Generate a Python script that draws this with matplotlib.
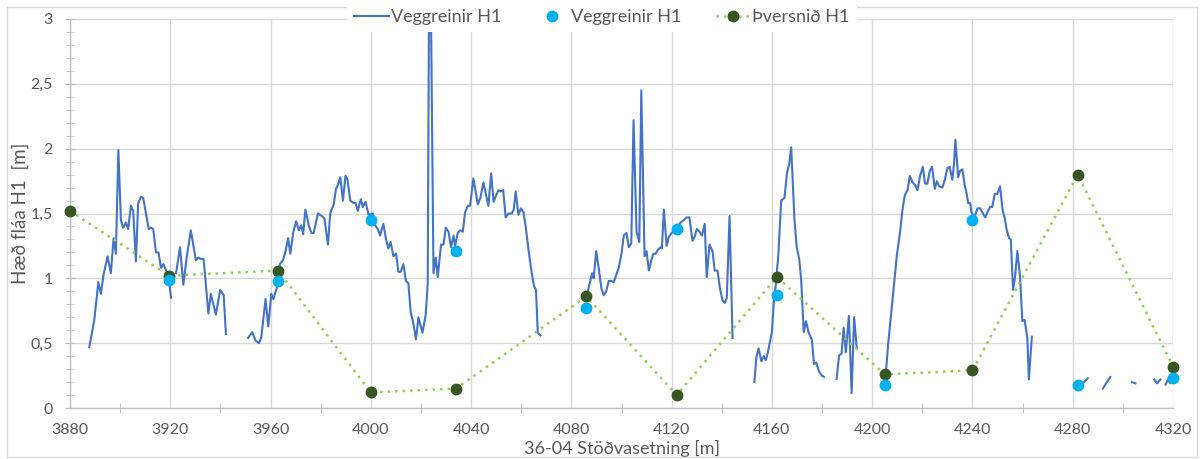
import numpy as np
import matplotlib
matplotlib.use("Agg")
import matplotlib.pyplot as plt
from matplotlib.ticker import MultipleLocator, FuncFormatter
from matplotlib.lines import Line2D
from matplotlib.patches import Rectangle

plt.rcParams['font.family'] = ['Lato', 'DejaVu Sans']

# ---- Veggreinir H1: continuous wall-line measurements, split into segments ----
seg1_x = [3887.7, 3889.7, 3891.3, 3892.3, 3893.4, 3895.0, 3896.3, 3897.4, 3898.3, 3899.3,
          3900.3, 3901.2, 3902.3, 3903.2, 3904.3, 3905.2, 3906.3, 3907.2, 3908.3, 3909.2,
          3910.3, 3911.4, 3912.3, 3913.2, 3914.3, 3915.3, 3916.3, 3917.3, 3918.3, 3919.2, 3920.3]
seg1_y = [0.47, 0.68, 0.97, 0.88, 1.03, 1.17, 1.04, 1.31, 1.19, 1.99,
          1.45, 1.39, 1.43, 1.38, 1.56, 1.52, 1.13, 1.58, 1.63, 1.62,
          1.50, 1.38, 1.39, 1.38, 1.20, 1.20, 1.08, 1.11, 1.06, 1.03, 0.85]

seg2_x = [3922.3, 3923.9, 3925.2, 3926.6, 3928.2, 3930.2, 3931.2, 3932.2, 3933.3, 3935.2,
          3936.2, 3938.2, 3939.9, 3941.3, 3942.2]
seg2_y = [1.04, 1.24, 0.95, 1.17, 1.37, 1.14, 1.16, 1.15, 1.15, 0.73,
          0.88, 0.72, 0.91, 0.87, 0.57]

seg3_x = [3951.0, 3952.7, 3954.0, 3955.4, 3956.3, 3958.0, 3959.1, 3960.3, 3961.1, 3962.4,
          3963.7, 3965.0, 3966.0, 3967.0, 3967.9, 3969.0, 3970.2, 3971.3, 3972.2, 3973.0,
          3973.9, 3975.2, 3976.3, 3977.2, 3978.9, 3980.5, 3981.5, 3982.9, 3983.8, 3985.2,
          3986.1, 3986.9, 3987.8, 3988.9, 3989.9, 3990.7, 3991.8, 3993.1, 3994.0, 3994.8,
          3996.0, 3996.8, 3997.9, 3999.1, 4000.8, 4001.7, 4002.8, 4003.7, 4005.0, 4006.1,
          4007.0, 4007.9, 4009.0, 4010.1, 4011.0, 4011.9, 4013.0, 4014.0, 4015.0, 4015.9,
          4017.0, 4018.0, 4019.0, 4020.6, 4021.9, 4022.7, 4023.2, 4024.0, 4025.0, 4025.9,
          4026.7, 4028.0, 4029.0, 4029.9, 4031.0, 4032.0, 4033.0, 4033.6, 4034.7, 4035.6,
          4036.7, 4037.6, 4038.7, 4039.6, 4040.9, 4041.9, 4042.7, 4043.7, 4044.9, 4045.9,
          4046.9, 4048.0, 4049.0, 4049.8, 4050.9, 4051.7, 4052.8, 4053.8, 4054.9, 4056.2,
          4057.0, 4057.8, 4058.9, 4059.9, 4060.9, 4061.9, 4063.1, 4064.2, 4065.1, 4065.9,
          4066.6, 4067.7]
seg3_y = [0.54, 0.585, 0.52, 0.50, 0.545, 0.84, 0.63, 0.88, 0.84, 0.92,
          1.11, 1.14, 1.21, 1.31, 1.19, 1.35, 1.44, 1.37, 1.41, 1.34,
          1.53, 1.41, 1.35, 1.35, 1.50, 1.48, 1.46, 1.26, 1.50, 1.57,
          1.69, 1.72, 1.78, 1.60, 1.79, 1.76, 1.60, 1.58, 1.58, 1.52,
          1.61, 1.55, 1.59, 1.49, 1.50, 1.41, 1.38, 1.33, 1.42, 1.30,
          1.23, 1.28, 1.17, 1.19, 1.05, 1.05, 1.11, 0.98, 0.96, 0.74,
          0.65, 0.53, 0.70, 0.58, 0.72, 0.96, 3.05, 3.05, 1.04, 1.16,
          1.01, 1.26, 1.26, 1.39, 1.36, 1.24, 1.33, 1.25, 1.35, 1.37,
          1.36, 1.51, 1.56, 1.56, 1.77, 1.66, 1.57, 1.62, 1.74, 1.65,
          1.56, 1.81, 1.59, 1.63, 1.68, 1.67, 1.68, 1.47, 1.50, 1.50,
          1.53, 1.67, 1.49, 1.54, 1.51, 1.38, 1.19, 1.04, 0.94, 0.91,
          0.58, 0.56]

seg4_x = [4086.6, 4087.3, 4088.3, 4088.9, 4089.9, 4090.9, 4092.0, 4092.9, 4093.9, 4094.9,
          4095.9, 4096.9, 4097.6, 4098.9, 4100.0, 4100.9, 4102.0, 4102.9, 4103.9, 4104.8,
          4106.0, 4107.1, 4107.9, 4109.2, 4110.0, 4110.9, 4111.9, 4112.7, 4113.6, 4114.5,
          4115.6, 4116.1, 4116.9, 4118.0, 4118.9, 4120.0, 4121.2, 4122.3, 4123.6, 4124.9,
          4126.0, 4127.1, 4128.3, 4129.2, 4130.0, 4131.1, 4132.1, 4133.2, 4134.0, 4135.1,
          4136.3, 4137.2, 4138.3, 4139.3, 4140.3, 4141.2, 4142.0, 4143.1, 4144.3]
seg4_y = [0.90, 0.96, 1.04, 1.00, 1.21, 1.08, 0.92, 0.87, 0.90, 0.98,
          0.98, 0.97, 1.01, 1.08, 1.19, 1.33, 1.35, 1.24, 1.27, 2.22,
          1.36, 1.28, 2.45, 1.17, 1.21, 1.06, 1.14, 1.19, 1.19, 1.22,
          1.24, 1.23, 1.53, 1.25, 1.32, 1.35, 1.37, 1.40, 1.43, 1.45,
          1.47, 1.47, 1.29, 1.32, 1.38, 1.36, 1.33, 1.42, 1.01, 1.26,
          1.21, 1.06, 1.06, 0.92, 0.83, 0.81, 0.85, 1.48, 0.54]

seg5_x = [4153.0, 4153.8, 4154.7, 4155.8, 4156.7, 4157.6, 4158.4, 4159.3, 4160.0, 4160.7,
          4161.6, 4162.6, 4163.7, 4165.0, 4166.0, 4166.9, 4167.7, 4169.0, 4169.9, 4170.9,
          4171.7, 4172.7, 4173.6, 4174.6, 4175.9, 4176.8, 4177.7, 4178.8, 4179.9, 4180.8]
seg5_y = [0.20, 0.39, 0.46, 0.36, 0.40, 0.37, 0.43, 0.52, 0.585, 0.80,
          0.96, 1.19, 1.60, 1.62, 1.81, 1.88, 2.01, 1.45, 1.24, 1.15,
          0.98, 0.585, 0.67, 0.585, 0.53, 0.34, 0.35, 0.28, 0.25, 0.24]

seg6_x = [4185.8, 4186.8, 4187.8, 4188.6, 4189.5, 4190.7, 4191.8, 4192.8, 4193.8]
seg6_y = [0.225, 0.405, 0.42, 0.62, 0.43, 0.71, 0.115, 0.70, 0.47]

seg7_x = [4205.5, 4206.4, 4208.1, 4209.8, 4211.2, 4212.1, 4213.0, 4214.1, 4215.0, 4216.1,
          4217.1, 4218.1, 4219.1, 4220.2, 4221.1, 4222.0, 4223.0, 4223.9, 4225.0, 4225.8,
          4226.7, 4228.0, 4229.1, 4230.0, 4230.9, 4232.0, 4232.7, 4233.2, 4234.3, 4235.1,
          4236.0, 4236.9, 4237.7, 4238.3, 4239.1, 4239.6, 4240.8, 4242.0, 4243.1, 4243.9,
          4245.1, 4246.0, 4247.0, 4247.9, 4248.9, 4249.9, 4251.0, 4252.0, 4252.9, 4253.7,
          4254.6, 4255.3, 4256.2, 4257.0, 4257.9, 4259.0, 4259.9, 4260.8, 4261.9, 4262.5,
          4263.7]
seg7_y = [0.28, 0.50, 0.83, 1.17, 1.37, 1.53, 1.64, 1.68, 1.79, 1.74,
          1.72, 1.68, 1.79, 1.86, 1.73, 1.73, 1.83, 1.86, 1.69, 1.75,
          1.71, 1.70, 1.77, 1.85, 1.86, 1.76, 1.90, 2.07, 1.78, 1.83,
          1.84, 1.72, 1.65, 1.58, 1.58, 1.51, 1.47, 1.54, 1.54, 1.51,
          1.47, 1.51, 1.55, 1.55, 1.65, 1.65, 1.71, 1.53, 1.46, 1.37,
          1.31, 1.30, 0.91, 1.01, 1.21, 1.01, 0.67, 0.68, 0.54, 0.22,
          0.55]

seg8_x = [4284.0, 4286.0]
seg8_y = [0.19, 0.23]
seg9_x = [4292.0, 4295.0]
seg9_y = [0.15, 0.24]
seg10_x = [4303.6, 4305.0]
seg10_y = [0.20, 0.19]
seg11_x = [4312.5, 4313.7, 4315.0]
seg11_y = [0.22, 0.19, 0.22]
seg12_x = [4317.0, 4318.0, 4319.0, 4320.0]
seg12_y = [0.18, 0.22, 0.19, 0.23]

segments = [(seg1_x, seg1_y), (seg2_x, seg2_y), (seg3_x, seg3_y), (seg4_x, seg4_y),
            (seg5_x, seg5_y), (seg6_x, seg6_y), (seg7_x, seg7_y), (seg8_x, seg8_y),
            (seg9_x, seg9_y), (seg10_x, seg10_y), (seg11_x, seg11_y), (seg12_x, seg12_y)]

# ---- Point series at cross-section stations ----
station = [3880, 3919.5, 3963, 4000, 4034, 4086, 4122, 4162, 4205, 4240, 4282, 4320]
veggreinir_pts = [np.nan, 0.99, 0.98, 1.45, 1.21, 0.77, 1.38, 0.87, 0.18, 1.45, 0.18, 0.23]
thversnid = [1.52, 1.02, 1.06, 0.12, 0.15, 0.86, 0.10, 1.01, 0.26, 0.29, 1.80, 0.32]

x_ticks = list(range(3880, 4321, 40))
y_ticks = [0, 0.5, 1, 1.5, 2, 2.5, 3]

# ---- Colours ----
BLUE = '#4472C4'
LIGHTBLUE = '#00B0F0'
DKGREEN = '#375623'
LTGREEN = '#92D050'
GRID = '#D9D9D9'
TXT = '#595959'

fig = plt.figure(figsize=(12, 4.59), dpi=100)
ax = fig.add_axes([70 / 1200, 51 / 459, 1103 / 1200, 389 / 459])

line_x, line_y = [], []
for sx, sy in segments:
    line_x += list(sx) + [np.nan]
    line_y += list(sy) + [np.nan]
ax.plot(line_x, line_y, color=BLUE, lw=1.5, zorder=3)

ax.plot(station, thversnid, color=LTGREEN, lw=1.8, ls=(0, (1, 2)),
        marker='o', ms=7.5, mfc=DKGREEN, mec=DKGREEN, zorder=4, clip_on=False)
ax.plot(station, veggreinir_pts, ls='none', marker='o', ms=7.5,
        mfc=LIGHTBLUE, mec=LIGHTBLUE, zorder=5, clip_on=False)

ax.set_xlim(3880, 4320)
ax.set_ylim(0, 3)
ax.set_xticks(x_ticks)
ax.xaxis.set_minor_locator(MultipleLocator(20))
ax.set_yticks(y_ticks)
ax.yaxis.set_minor_locator(MultipleLocator(0.1))
ax.yaxis.set_major_formatter(FuncFormatter(lambda v, p: f"{v:g}".replace('.', ',')))

ax.grid(True, which='major', color=GRID, lw=1.0, zorder=0)
ax.set_axisbelow(True)
for s in ['top', 'right']:
    ax.spines[s].set_visible(False)
for s in ['left', 'bottom']:
    ax.spines[s].set_color('#BFBFBF')
    ax.spines[s].set_linewidth(1.0)

ax.tick_params(axis='both', which='both', direction='inout', color='#BFBFBF',
               labelcolor=TXT, labelsize=11.5)
ax.tick_params(axis='y', which='major', length=7, pad=9)
ax.tick_params(axis='y', which='minor', length=6)
ax.tick_params(axis='x', which='major', length=0, pad=11)
ax.tick_params(axis='x', which='minor', length=7)

ax.set_xlabel('36-04 Stöðvasetning [m]', fontsize=13, color=TXT, labelpad=2)
ax.set_ylabel('Hæð fláa H1  [m]', fontsize=13.5, color=TXT, labelpad=1)

handles = [
    Line2D([], [], color=BLUE, lw=1.5),
    Line2D([], [], ls='none', marker='o', ms=7.5, mfc=LIGHTBLUE, mec=LIGHTBLUE),
    Line2D([], [], color=LTGREEN, lw=1.8, ls=(0, (1, 2)), marker='o', ms=7.5,
           mfc=DKGREEN, mec=DKGREEN, markevery=[1]),
]
leg = fig.legend(handles, ['Veggreinir H1', 'Veggreinir H1', 'Þversnið H1'],
                 loc='center', bbox_to_anchor=(602 / 1200, 1 - 17 / 459), ncol=3,
                 frameon=True, fancybox=False, framealpha=1, facecolor='white',
                 edgecolor='none', fontsize=13, handlelength=1.9, handletextpad=0.1,
                 columnspacing=1.9, borderpad=0.4, borderaxespad=0)
for t in leg.get_texts():
    t.set_color(TXT)
leg.set_zorder(10)

fig.patches.append(Rectangle((7 / 1200, 2 / 459), 1190 / 1200, 450 / 459,
                             transform=fig.transFigure, fill=False,
                             edgecolor='#D9D9D9', lw=1.0))

fig.savefig('out.png', dpi=100)
